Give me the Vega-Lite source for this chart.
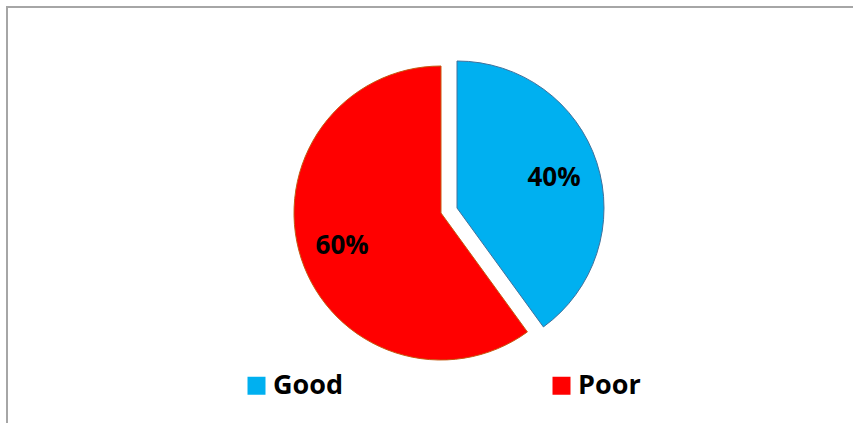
{
  "$schema": "https://vega.github.io/schema/vega-lite/v6.json",
  "width": 900,
  "height": 440,
  "autosize": {"type": "none"},
  "padding": {"left": 7, "top": 7, "right": 0, "bottom": 0},
  "background": "#FFFFFF",
  "view": {"stroke": "#A6A6A6", "strokeWidth": 2, "fill": "#FFFFFF"},
  "config": {
    "view": {"stroke": "#A6A6A6", "strokeWidth": 2},
    "font": "Open Sans"
  },
  "data": {
    "values": [
      {"category": "Good", "share": 0.4},
      {"category": "Poor", "share": 0.6}
    ]
  },
  "transform": [
    {"stack": "share", "groupby": [], "sort": [{"field": "category", "order": "ascending"}], "as": ["v0", "v1"]},
    {"calculate": "(datum.v0 + datum.v1) / 2", "as": "mid"}
  ],
  "layer": [
    {
      "transform": [{"filter": "datum.category === 'Poor'"}],
      "layer": [
        {
          "mark": {"type": "arc", "outerRadius": 147, "stroke": "#C55A11", "strokeWidth": 1, "xOffset": -16, "yOffset": -14},
          "encoding": {
            "theta": {"field": "v0", "type": "quantitative", "scale": {"domain": [0, 1]}, "stack": null},
            "theta2": {"field": "v1"},
            "color": {
              "field": "category",
              "type": "nominal",
              "scale": {"domain": ["Good", "Poor"], "range": ["#00B0F0", "#FF0000"]},
              "legend": {
                "title": null,
                "orient": "none",
                "legendX": 236,
                "legendY": 365,
                "direction": "horizontal",
                "columns": 2,
                "columnPadding": 204,
                "symbolType": "square",
                "symbolSize": 324,
                "symbolStrokeWidth": 0,
                "symbolOpacity": 1,
                "labelFont": "Open Sans",
                "labelFontSize": 27,
                "labelFontWeight": "bold",
                "labelColor": "#000000",
                "labelOffset": 3,
                "padding": 0
              }
            }
          }
        },
        {
          "mark": {"type": "text", "radius": 104, "xOffset": -16, "yOffset": -13, "font": "Open Sans", "fontSize": 26, "fontWeight": "bold", "color": "#000000"},
          "encoding": {
            "theta": {"field": "mid", "type": "quantitative", "stack": null},
            "text": {"field": "share", "type": "quantitative", "format": ".0%"}
          }
        }
      ]
    },
    {
      "transform": [{"filter": "datum.category === 'Good'"}],
      "layer": [
        {
          "mark": {"type": "arc", "outerRadius": 147, "stroke": "#41719C", "strokeWidth": 1, "xOffset": 0, "yOffset": -19},
          "encoding": {
            "theta": {"field": "v0", "type": "quantitative", "stack": null},
            "theta2": {"field": "v1"},
            "color": {"field": "category", "type": "nominal"}
          }
        },
        {
          "mark": {"type": "text", "radius": 102, "xOffset": 0, "yOffset": -17, "font": "Open Sans", "fontSize": 26, "fontWeight": "bold", "color": "#000000"},
          "encoding": {
            "theta": {"field": "mid", "type": "quantitative", "stack": null},
            "text": {"field": "share", "type": "quantitative", "format": ".0%"}
          }
        }
      ]
    }
  ]
}
